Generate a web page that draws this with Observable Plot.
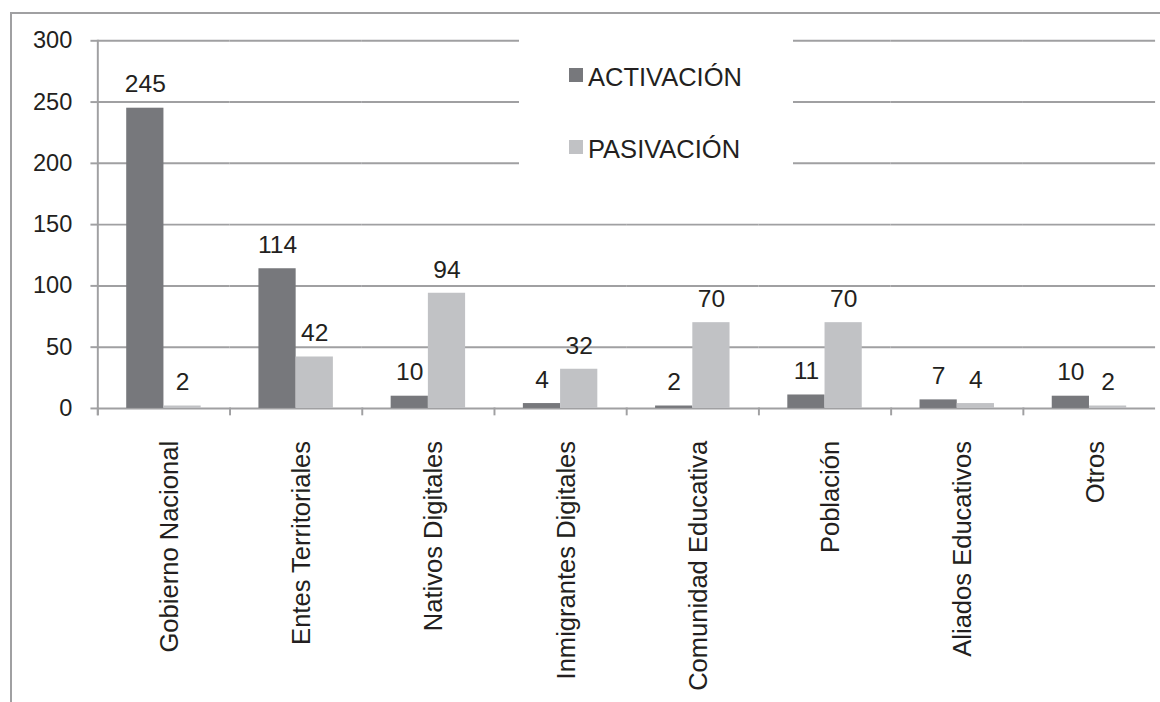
<!DOCTYPE html>
<html>
<head>
<meta charset="utf-8">
<script src="https://cdn.jsdelivr.net/npm/d3@7"></script>
<script src="https://cdn.jsdelivr.net/npm/@observablehq/plot@0.6"></script>
<style>
  html, body { margin: 0; padding: 0; background: #fff; }
  body { width: 1160px; height: 702px; overflow: hidden; position: relative; font-family: "Liberation Sans", Arial, sans-serif; color: #231f20; }
  #frame { position: absolute; left: 10px; top: 12px; width: 1300px; height: 900px; border: 2px solid #a0a0a2; }
  #chart { position: absolute; left: 0; top: 0; }
  #legend { position: absolute; left: 519px; top: 30px; width: 274px; height: 165px; background: #fff; }
  .sw { position: absolute; left: 50px; width: 14px; height: 14px; }
  .lt { position: absolute; left: 69px; font-size: 25.5px; line-height: 25px; white-space: nowrap; color: #231f20; }
</style>
</head>
<body>
<div id="frame"></div>
<div id="chart"></div>
<div id="legend"></div>
<script>
const categories = ["Gobierno Nacional","Entes Territoriales","Nativos Digitales","Inmigrantes Digitales","Comunidad Educativa","Población","Aliados Educativos","Otros"];
const seriesNames = ["ACTIVACIÓN","PASIVACIÓN"];
const activacion = [245,114,10,4,2,11,7,10];
const pasivacion = [2,42,94,32,70,70,4,2];
const yTicks = [0,50,100,150,200,250,300];
const colors = ["#77787c","#c1c2c5"];

const data = [];
categories.forEach((c, i) => {
  data.push({cat: c, series: seriesNames[0], value: activacion[i]});
  data.push({cat: c, series: seriesNames[1], value: pasivacion[i]});
});

const grid = "#a0a0a2";
const txt = "#231f20";

const chart = Plot.plot({
  width: 1180,
  height: 702,
  marginLeft: 99,
  marginRight: 5,
  marginTop: 41,
  marginBottom: 287,
  style: {fontFamily: "'Liberation Sans', Arial, sans-serif", background: "transparent", color: txt},
  fx: {domain: categories, paddingInner: 0, paddingOuter: 0, round: false, axis: null},
  x: {domain: seriesNames, paddingInner: 0, paddingOuter: 0.776, round: false, axis: null},
  y: {domain: [0, 300], axis: null},
  color: {domain: seriesNames, range: colors},
  marks: [
    Plot.gridY(yTicks, {stroke: grid, strokeOpacity: 1, strokeWidth: 2}),
    Plot.frame({anchor: "left", stroke: grid, strokeWidth: 2, insetTop: 374, insetBottom: -6}),
    Plot.frame({anchor: "left", stroke: grid, strokeWidth: 2, insetBottom: -6, facet: "super"}),
    Plot.axisY({ticks: yTicks, tickSize: 7, tickPadding: 19, stroke: grid, strokeWidth: 2, fontSize: 24, fill: txt, label: null}),
    Plot.barY(data, {fx: "cat", x: "series", y: "value", fill: "series"}),
    Plot.text(data, {fx: "cat", x: "series", y: "value", text: d => String(d.value), dy: -16, lineAnchor: "bottom", fontSize: 25, fill: txt}),
    Plot.axisFx({anchor: "bottom", tickSize: 0, tickRotate: -90, tickPadding: 33, dx: 6, fontSize: 26, fill: txt, label: null})
  ]
});
document.getElementById("chart").appendChild(chart);

const legend = document.getElementById("legend");
const legendTops = [{sw: 38, t: 35}, {sw: 110, t: 107}];
seriesNames.forEach((s, i) => {
  const sw = document.createElement("div");
  sw.className = "sw";
  sw.style.top = legendTops[i].sw + "px";
  sw.style.background = colors[i];
  legend.appendChild(sw);
  const t = document.createElement("div");
  t.className = "lt";
  t.style.top = legendTops[i].t + "px";
  t.textContent = s;
  legend.appendChild(t);
});
</script>
</body>
</html>
